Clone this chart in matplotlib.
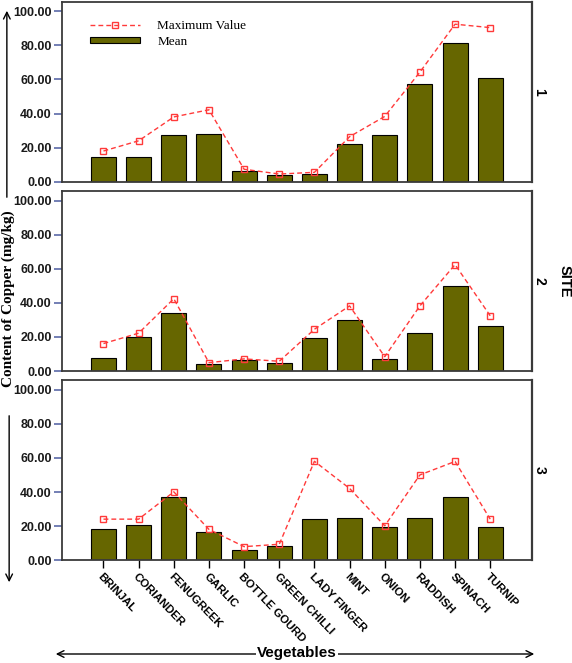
import matplotlib
matplotlib.use("Agg")
import matplotlib.pyplot as plt
from matplotlib.patches import FancyArrowPatch
from matplotlib.ticker import FormatStrFormatter

vegetables = ["BRINJAL", "CORIANDER", "FENUGREEK", "GARLIC", "BOTTLE GOURD",
              "GREEN CHILLI", "LADY FINGER", "MINT", "ONION", "RADDISH",
              "SPINACH", "TURNIP"]
sites = ["1", "2", "3"]

mean_vals = [
    [14.3, 14.3, 27.4, 28.0, 6.3, 4.1, 4.5, 22.1, 27.4, 57.6, 81.4, 61.0],
    [7.8, 20.0, 34.3, 4.3, 6.3, 4.5, 19.6, 30.2, 7.3, 22.2, 49.8, 26.3],
    [18.1, 20.6, 36.8, 16.5, 6.2, 8.2, 24.1, 24.7, 19.5, 24.7, 36.8, 19.5],
]
max_vals = [
    [18.0, 24.0, 38.0, 42.2, 7.3, 4.5, 5.5, 26.4, 38.3, 64.3, 92.4, 90.4],
    [16.1, 22.2, 42.4, 4.9, 7.1, 5.7, 24.5, 38.2, 8.4, 38.2, 62.4, 32.4],
    [24.1, 24.1, 40.1, 18.1, 8.0, 9.4, 58.0, 42.1, 20.2, 50.0, 57.9, 24.1],
]
yticks = [0, 20, 40, 60, 80, 100]

OLIVE = "#666600"
RED = "#ff3a3a"
TICKBLUE = "#5b6aa8"
SANS = "Liberation Sans"
SERIF = "Liberation Serif"

W, H = 572, 663
fig = plt.figure(figsize=(W / 100, H / 100), dpi=100)

# panel boxes in pixels: (top, bottom)
boxes = [(1.7, 181.7), (191, 371), (380, 560.3)]
left, right = 62, 531.7
x = list(range(len(vegetables)))

axes = []
for i, (top, bot) in enumerate(boxes):
    ax = fig.add_axes([left / W, 1 - bot / H, (right - left) / W, (bot - top) / H])
    axes.append(ax)
    ax.plot(x, max_vals[i], color=RED, lw=1.0, ls=(0, (3.5, 2.2)),
            marker="s", ms=5, mfc="none", mec=RED, mew=1.0, zorder=3,
            label="Maximum Value")
    ax.bar(x, mean_vals[i], width=0.71, color=OLIVE, edgecolor="black",
           linewidth=0.8, zorder=2, label="Mean")
    ax.set_xlim(-1.18, len(vegetables) - 1 + 1.18)
    ax.set_ylim(0, 105.6)
    ax.set_yticks(yticks)
    ax.yaxis.set_major_formatter(FormatStrFormatter("%.2f"))
    ax.tick_params(axis="y", direction="out", length=6, width=1.2,
                   color=TICKBLUE, pad=1.5)
    for lab in ax.get_yticklabels():
        lab.set_fontfamily(SANS)
        lab.set_fontweight("bold")
        lab.set_fontsize(9)
        lab.set_color("#1a1a1a")
    for s in ax.spines.values():
        s.set_color("#3a3a3a")
        s.set_linewidth(1.3)
    ax.spines["right"].set_linewidth(1.6)
    ax.text(1.016, 0.5, sites[i], transform=ax.transAxes, rotation=-90,
            ha="center", va="center", fontsize=10, fontweight="bold",
            family=SANS)
    if i < 2:
        ax.set_xticks([])
    else:
        ax.set_xticks(x)
        ax.set_xticklabels(vegetables, rotation=-46, ha="left", va="top",
                           rotation_mode="anchor", fontsize=8.2,
                           fontweight="bold", family=SANS)
        ax.tick_params(axis="x", direction="out", length=6, width=1.0,
                       color="black", pad=2)

# legend in first panel
axes[0].legend(loc="upper left", bbox_to_anchor=(0.06, 0.9),
               frameon=False, borderaxespad=0, borderpad=0, handlelength=3.8,
               handleheight=0.4, handletextpad=1.3, labelspacing=0.3,
               prop={"family": SERIF, "size": 9.5})

# y label with arrows
fig.text(0.014, 0.549, "Content of Copper (mg/kg)", rotation=90,
         ha="center", va="center", fontsize=11, fontweight="bold", family=SERIF)
arrow = dict(arrowstyle="->", color="black", lw=1.0, mutation_scale=12)
fig.add_artist(FancyArrowPatch((0.012, 1 - 200 / H), (0.012, 1 - 8 / H),
                               transform=fig.transFigure, **arrow))
fig.add_artist(FancyArrowPatch((0.016, 1 - 413 / H), (0.016, 1 - 585 / H),
                               transform=fig.transFigure, **arrow))

# x label with double arrow
fig.add_artist(FancyArrowPatch((53 / W, 1 - 654 / H), (537 / W, 1 - 654 / H),
                               transform=fig.transFigure, arrowstyle="<->",
                               color="black", lw=1.0, mutation_scale=12))
fig.text(297 / W, 1 - 653 / H, "Vegetables", ha="center", va="center",
         fontsize=11, fontweight="bold", family=SANS,
         bbox=dict(facecolor="white", edgecolor="none", pad=0.5))

fig.text(565 / W, 1 - 281 / H, "SITE", rotation=-90, ha="center", va="center",
         fontsize=10.5, fontweight="bold", family=SANS)

fig.savefig("out.png", dpi=100)
